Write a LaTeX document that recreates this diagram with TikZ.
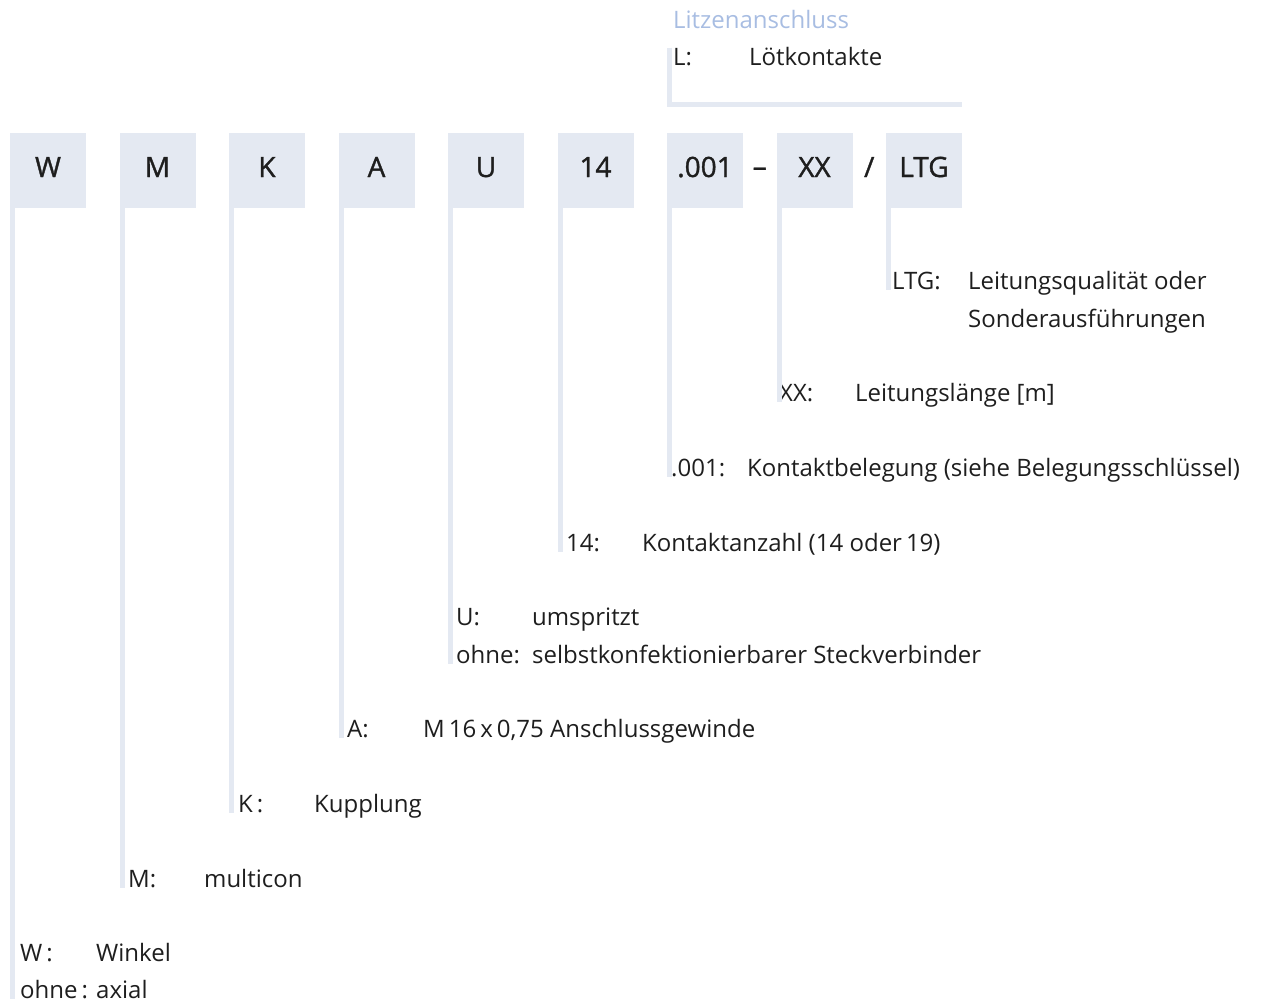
\documentclass[tikz,border=0pt]{standalone}
\usepackage{fontspec}
\setmainfont{Open Sans}
\newfontfamily\boxfont[FakeBold=1.2]{Open Sans}
\usetikzlibrary{positioning,calc}
\definecolor{boxgray}{HTML}{E4E9F2}
\definecolor{litzblue}{HTML}{A8BDE2}
\definecolor{textdark}{HTML}{1E1E1E}
\newcommand{\keycol}[1]{\makebox[76pt][l]{#1}}
\tikzset{node distance=33.5pt, % gap between two code boxes
        codebox/.style={ % grey box holding one part of the code
            fill=boxgray,
            minimum width=76pt, minimum height=75pt,
            inner sep=0pt, outer sep=0pt,
            text height=20pt, text depth=6pt,
            text=textdark,
            font=\boxfont\fontsize{28}{28}\selectfont},
        sepsign/.style={inner sep=0pt, text=textdark,
            font=\boxfont\fontsize{28}{28}\selectfont},
        desc/.style={ % explanation next to a leader
            anchor=base west,
            inner sep=0pt,
            text=textdark,
            font=\fontsize{24}{38}\selectfont},
        leader/.style={ % light bar below a box
            draw=boxgray, line width=5pt,
            transform canvas={xshift=2.5pt}},
        bracket/.style={draw=boxgray, line width=5pt}
        }

\begin{document}
\begin{tikzpicture}[x=1pt, y=-1pt]
    \useasboundingbox (0,0) rectangle (1270,1005);

    % code boxes
    \node[codebox] (W) at (48,170) {W};
    \node[codebox] (M) [right=of W] {M};
    \node[codebox] (K) [right=of M] {K};
    \node[codebox] (A) [right=of K] {A};
    \node[codebox] (U) [right=of A] {U};
    \node[codebox] (n14) [right=of U] {14};
    \node[codebox] (p001) [right=of n14] {.001};
    \node[codebox] (XX) [right=of p001] {XX};
    \node[codebox] (LTG) [right=of XX] {LTG};
    \node[sepsign] (dash) at ($(p001.east)!0.5!(XX.west)+(0,2)$) {–};
    \node[sepsign] (slash) at ($(XX.east)!0.5!(LTG.west)+(0,-3)$) {/};

    % explanations
    \node[desc, text=litzblue] (litz) at (673,28.5) {Litzenanschluss};
    \node[desc] (dL) at (673,65.5) {\keycol{L:}Lötkontakte};
    \node[desc] (dLTG) at (892,289.5) {\keycol{LTG:}Leitungsqualität oder};
    \node[desc] (dLTGb) at (968,327.5) {Sonderausführungen};
    \node[desc] (dXX) at (779,401.5) {\keycol{XX:}Leitungslänge [m]};
    \node[desc] (d001) at (671,476.5) {\keycol{.001:}Kontaktbelegung (siehe Belegungsschlüssel)};
    \node[desc] (d14) at (566,551.5) {\keycol{14:}Kontaktanzahl (14 oder\,19)};
    \node[desc] (dU) at (456,625.5) {\keycol{U:}umspritzt};
    \node[desc] (dUo) at (456,663.5) {\keycol{ohne:}selbstkonfektionierbarer Steckverbinder};
    \node[desc] (dA) at (347,737.5) {\keycol{A:}M\,16\,x\,0,75 Anschlussgewinde};
    \node[desc] (dK) at (238,812.5) {\keycol{K\,:}Kupplung};
    \node[desc] (dM) at (128,887.5) {\keycol{M:}multicon};
    \node[desc] (dW) at (20,961.5) {\keycol{W\,:}Winkel};
    \node[desc] (dWo) at (20,998.5) {\keycol{ohne\,:}axial};

    % leaders
    \draw[leader] (W.south west) -- (W.south west |- dWo.base);
    \draw[leader] (M.south west) -- (M.south west |- dM.base);
    \draw[leader] (K.south west) -- (K.south west |- dK.base);
    \draw[leader] (A.south west) -- (A.south west |- dA.base);
    \draw[leader] (U.south west) -- (U.south west |- dUo.base);
    \draw[leader] (n14.south west) -- (n14.south west |- d14.base);
    \draw[leader] (p001.south west) -- (p001.south west |- d001.base);
    \draw[leader] (XX.south west) -- (XX.south west |- dXX.base);
    \draw[leader] (LTG.south west) -- (LTG.south west |- dLTG.base);
    \draw[bracket] ([xshift=2.5pt,yshift=85pt]p001.north west)
        -- ([xshift=2.5pt,yshift=28pt]p001.north west)
        -- ([yshift=28pt]LTG.north east);
\end{tikzpicture}
\end{document}
